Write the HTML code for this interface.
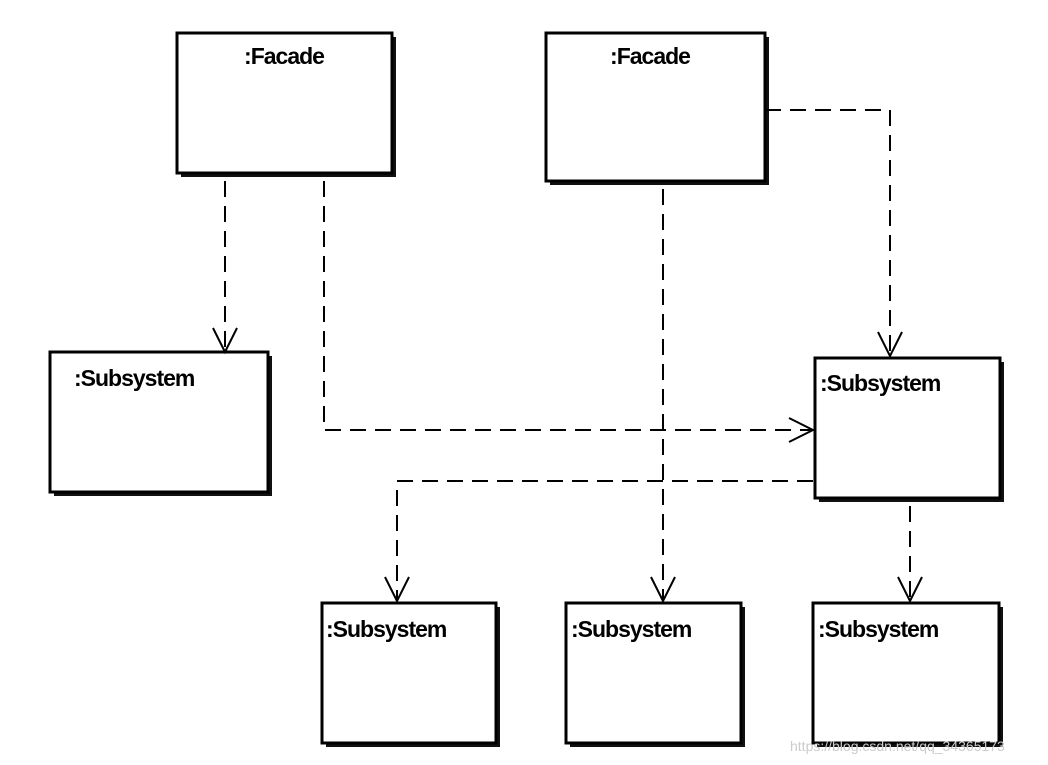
<!DOCTYPE html>
<html><head><style>
body{margin:0;background:#fff;width:1048px;height:760px;overflow:hidden}
text{font-family:"Liberation Sans",sans-serif;font-weight:bold;font-size:23px;letter-spacing:-1px}
</style></head><body>
<svg width="1048" height="760" xmlns="http://www.w3.org/2000/svg">
<g fill="#111">
<rect x="181" y="37" width="215" height="140"/>
<rect x="550" y="37" width="219" height="148"/>
<rect x="54" y="356" width="218" height="140"/>
<rect x="819" y="362" width="185" height="140"/>
<rect x="326" y="607" width="174" height="140"/>
<rect x="570" y="607" width="175" height="140"/>
<rect x="817" y="607" width="186" height="140"/>
</g>
<g fill="#fff" stroke="#000" stroke-width="3">
<rect x="177" y="33" width="215" height="140"/>
<rect x="546" y="33" width="219" height="148"/>
<rect x="50" y="352" width="218" height="140"/>
<rect x="815" y="358" width="185" height="140"/>
<rect x="322" y="603" width="174" height="140"/>
<rect x="566" y="603" width="175" height="140"/>
<rect x="813" y="603" width="186" height="140"/>
</g>
<g fill="#000">
<text x="284" y="64" text-anchor="middle">:Facade</text>
<text x="650" y="64" text-anchor="middle">:Facade</text>
<text x="74" y="386">:Subsystem</text>
<text x="820" y="391">:Subsystem</text>
<text x="326" y="637">:Subsystem</text>
<text x="571" y="637">:Subsystem</text>
<text x="818" y="637">:Subsystem</text>
</g>
<g fill="none" stroke="#000" stroke-width="2" stroke-dasharray="16,9">
<path d="M225 181 V352"/>
<path d="M324 181 V430 H813"/>
<path d="M765 110 H890 V356"/>
<path d="M663 189 V601"/>
<path d="M813 481 H397 V601"/>
<path d="M910 506 V601"/>
</g>
<g fill="none" stroke="#000" stroke-width="2">
<path d="M213 328 L225 352 L237 328"/>
<path d="M789 418 L813 430 L789 442"/>
<path d="M878 332 L890 356 L902 332"/>
<path d="M651 577 L663 601 L675 577"/>
<path d="M385 577 L397 601 L409 577"/>
<path d="M898 577 L910 601 L922 577"/>
</g>
<text x="790" y="751" style="font-weight:normal;font-size:14px;fill:#ccc;letter-spacing:0">https://blog.csdn.net/qq_34365173</text>
</svg>
</body></html>
